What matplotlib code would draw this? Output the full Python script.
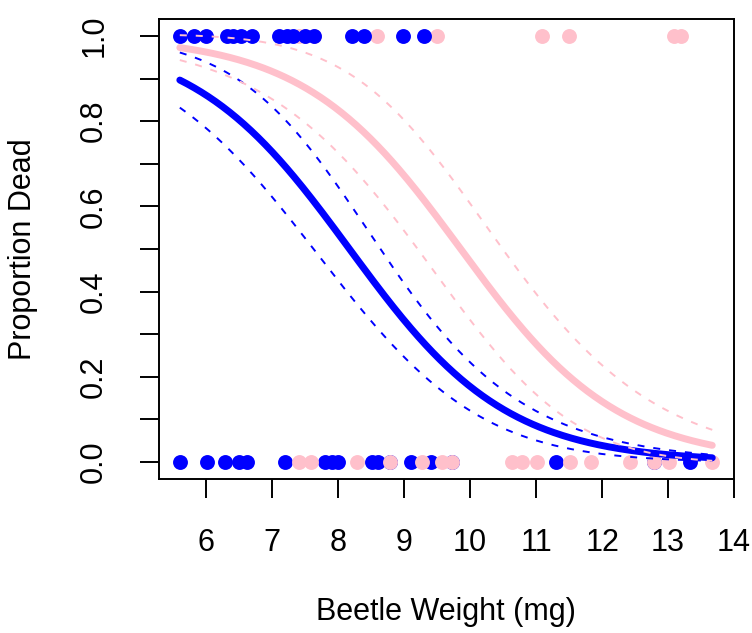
import numpy as np
import matplotlib
matplotlib.use("Agg")
import matplotlib.pyplot as plt

# ---- data ----
# beetle weights (mg) of observations, by group and outcome
blue_dead_w = [5.60, 5.81, 5.99, 6.31, 6.41, 6.52, 6.69, 7.10, 7.22, 7.32,
               7.50, 7.63, 8.21, 8.39, 8.99, 9.30]
blue_alive_w = [5.60, 6.01, 6.29, 6.50, 6.62, 7.20, 7.80, 7.91, 8.00, 8.51,
                8.61, 8.79, 9.10, 9.40, 9.73, 11.30, 12.79, 13.34]
pink_dead_w = [7.40, 7.50, 7.63, 8.59, 9.50, 11.09, 11.50, 13.09, 13.20]
pink_alive_w = [7.40, 7.59, 8.29, 8.79, 9.27, 9.58, 9.73, 10.64, 10.79, 11.02,
                11.52, 11.83, 12.43, 12.79, 13.02, 13.67]

# fitted logistic model (link scale) and its standard error, per group
blue_coef = [6.864, -0.84]          # intercept, slope
pink_coef = [8.28, -0.84]
blue_se = [0.195, 0.0764, 9.5]      # se at centre, se of slope, centre
pink_se = [0.28, 0.111, 10.0]

x_ticks = [6, 7, 8, 9, 10, 11, 12, 13, 14]
y_ticks = [0.0, 0.1, 0.2, 0.3, 0.4, 0.5, 0.6, 0.7, 0.8, 0.9, 1.0]
y_ticklabels = ["0.0", "", "0.2", "", "0.4", "", "0.6", "", "0.8", "", "1.0"]

BLUE = "#0000FF"
PINK = "#FFC0CB"

plt.rcParams['font.family'] = ['Liberation Sans', 'DejaVu Sans']

fig = plt.figure(figsize=(7.52, 6.33), dpi=100)
ax = fig.add_axes([0.2108, 0.2433, 0.7653, 0.7267])

all_w = blue_dead_w + blue_alive_w + pink_dead_w + pink_alive_w
wmin, wmax = min(all_w), max(all_w)

ms = 115
# top row: blue above pink; bottom row: pink above blue
ax.scatter(pink_dead_w, [1] * len(pink_dead_w), s=ms, color=PINK, lw=0, zorder=2.0)
ax.scatter(blue_dead_w, [1] * len(blue_dead_w), s=ms, color=BLUE, lw=0, zorder=2.1)
ax.scatter(blue_alive_w, [0] * len(blue_alive_w), s=ms, color=BLUE, lw=0, zorder=2.0)
ax.scatter(pink_alive_w, [0] * len(pink_alive_w), s=ms, color=PINK, lw=0, zorder=2.1)

xs = np.linspace(wmin, wmax, 300)


def curves(coef, se):
    eta = coef[0] + coef[1] * xs
    p = 1 / (1 + np.exp(-eta))
    s_eta = np.sqrt(se[0] ** 2 + (se[1] * (xs - se[2])) ** 2)
    s_p = p * (1 - p) * s_eta
    return p, p + 1.96 * s_p, p - 1.96 * s_p


dash = (3.6, 4.6)
bp, bu, bl = curves(blue_coef, blue_se)
pp, pu, pl = curves(pink_coef, pink_se)
ax.plot(xs, bp, color=BLUE, lw=5, solid_capstyle='round', zorder=3)
ax.plot(xs, bu, color=BLUE, lw=1.4, dashes=dash, zorder=3)
ax.plot(xs, bl, color=BLUE, lw=1.4, dashes=dash, zorder=3)
ax.plot(xs, pp, color=PINK, lw=5, solid_capstyle='round', zorder=4)
ax.plot(xs, pu, color=PINK, lw=1.4, dashes=dash, zorder=4)
ax.plot(xs, pl, color=PINK, lw=1.4, dashes=dash, zorder=4)

ax.set_xlim(wmin - 0.04 * (wmax - wmin), 14.0)
ax.set_ylim(-0.04, 1.04)
ax.set_xticks(x_ticks)
ax.set_xticklabels([str(t) for t in x_ticks])
ax.set_yticks(y_ticks)
ax.set_yticklabels(y_ticklabels, rotation=90, va='center')

fs = 22
ax.tick_params(axis='both', direction='out', length=14, width=1.4,
               labelsize=fs, pad=21.5, color='black')
for sp in ax.spines.values():
    sp.set_linewidth(1.4)

ax.set_xlabel("Beetle Weight (mg)", fontsize=fs, labelpad=28)
ax.set_ylabel("Proportion Dead", fontsize=fs, labelpad=30)

fig.savefig("out.png", dpi=100)
